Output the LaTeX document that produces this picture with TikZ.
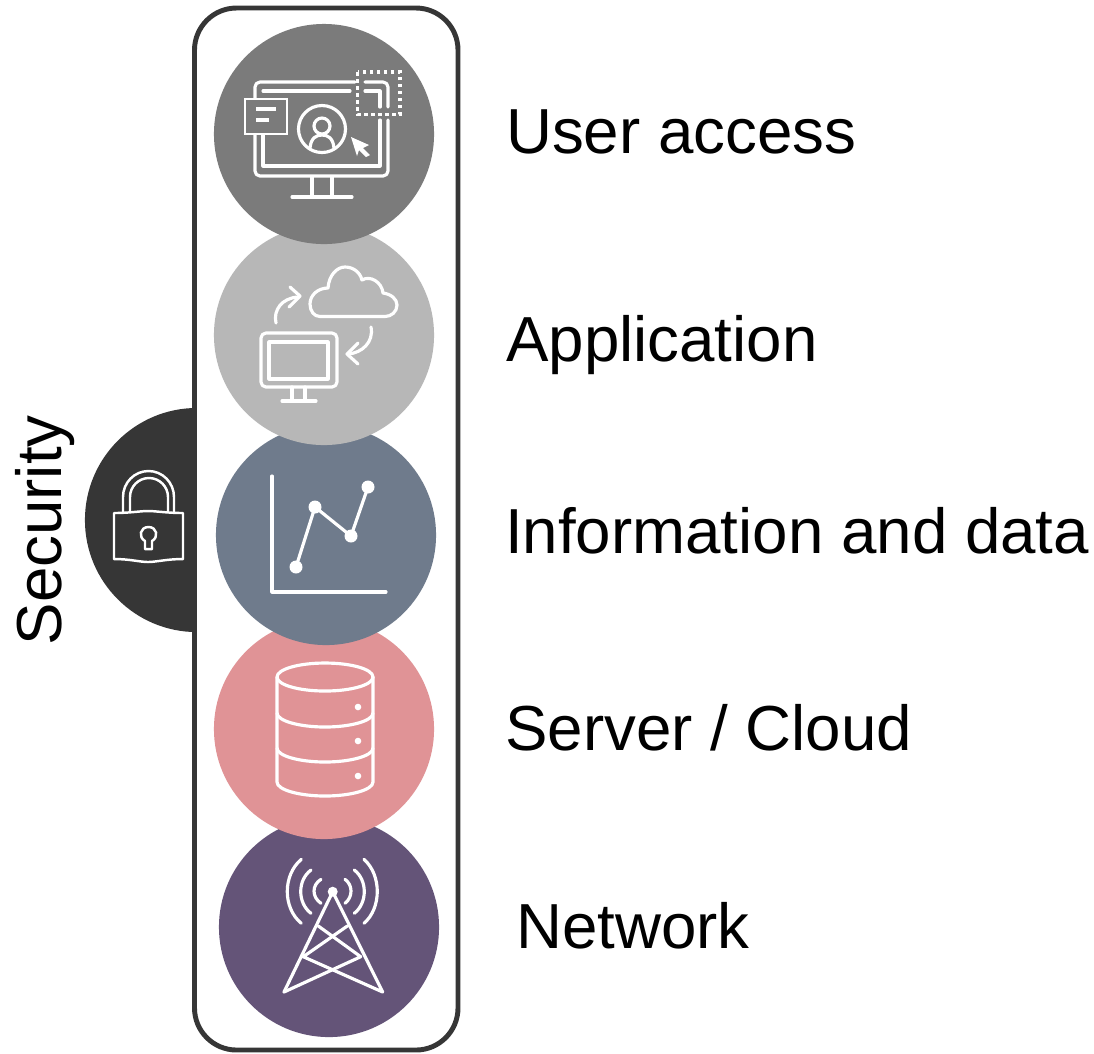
\documentclass[tikz,border=0pt]{standalone}
\usepackage{fontspec}
\setmainfont{Liberation Sans}
\usepackage{tikz}
\usetikzlibrary{positioning}
\definecolor{layerUser}{HTML}{7B7B7B}
\definecolor{layerApp}{HTML}{B7B7B7}
\definecolor{layerInfo}{HTML}{6F7B8C}
\definecolor{layerServer}{HTML}{E09396}
\definecolor{layerNet}{HTML}{645478}
\definecolor{layerSec}{HTML}{363636}
\tikzset{
  layer/.style={circle,minimum size=2.2cm,inner sep=0pt},
  icon/.style={draw=white,line width=0.9pt,line cap=round,line join=round},
  label/.style={anchor=base west,inner sep=0pt,font=\fontsize{18.1}{22}\selectfont}
}
\begin{document}
\begin{tikzpicture}[x=0.01cm,y=-0.01cm]
\useasboundingbox (0,0) rectangle (1094,1053);
\node[layer,minimum size=2.24cm,fill=layerSec] (security) at (197,520) {};
\draw[line width=1.4pt,draw=layerSec,fill=white,rounded corners=0.42cm] (194.5,8) rectangle (458,1050);
\node[layer,fill=layerNet] (network) at (329,927) {};
\node[layer,fill=layerServer] (server) at (324,729) {};
\node[layer,fill=layerInfo] (info) at (326,535) {};
\node[layer,fill=layerApp] (app) at (324,335) {};
\node[layer,fill=layerUser] (user) at (324,134) {};
\node[label] (userText) at (505.5,153) {User access};
\node[label] (appText) at (505.5,361) {Application};
\node[label] (infoText) at (504.5,553) {Information and data};
\node[label] (serverText) at (504.5,750) {Server / Cloud};
\node[label] (netText) at (515.5,948) {Network};
\node[label,rotate=90] (secText) at (61,646) {Security};
% user access
\draw[icon] (255,98) -- (255,87) arc[start angle=180,end angle=270,radius=5] -- (355,82);
\draw[icon] (263,91) -- (350,91);
\draw[icon] (365,82) -- (383,82) arc[start angle=270,end angle=360,radius=5] -- (388,107);
\draw[icon] (365,91) -- (380,91) -- (380,107);
\draw[icon] (388,120) -- (388,171) arc[start angle=0,end angle=90,radius=5] -- (260,176) arc[start angle=90,end angle=180,radius=5] -- (255,135);
\draw[icon] (263,135) -- (263,166) -- (380,166) -- (380,120);
\draw[icon] (312,177) -- (312,197) (332,177) -- (332,197) (292,197) -- (352,197);
\draw[icon,line width=0.8pt,line cap=butt,line join=miter] (245,99) rectangle (287,134);
\draw[icon,line cap=butt] (256,109) -- (276,109) (256,120) -- (269,120);
\draw[icon] (322,129) circle (23.5);
\draw[icon] (322,126) circle (8);
\draw[icon] (310,148) .. controls (311,138) and (316,135) .. (322,135) .. controls (328,135) and (333,138) .. (334,148);
\fill[white] (351,137) -- (369,145) -- (363,148) -- (370,155) -- (366,157) -- (359,150) -- (357,156) -- cycle;
\draw[draw=white,line width=1.1pt,dash pattern=on 0.035cm off 0.035cm] (357.5,72) rectangle (400,114.5);
% application
\draw[icon] (320,316.5) .. controls (314,316.5) and (310,311) .. (310,304) .. controls (310,295) and (318,288) .. (328,288) .. controls (329,275) and (337,267) .. (345,267) .. controls (353,267) and (360,272) .. (362,280) .. controls (370,275) and (382,282) .. (383,293) .. controls (391,294) and (397,299) .. (397,305) .. controls (397,312) and (391,316.5) .. (385,316.5) -- cycle;
\draw[icon] (276,323) .. controls (273,310) and (282,298) .. (298,297);
\draw[icon] (290,287) -- (300,296) -- (289,307);
\draw[icon] (371,327) .. controls (374,342) and (362,353) .. (348,354);
\draw[icon] (358,343) -- (347,354) -- (358,364);
\draw[icon,rounded corners=0.05cm] (261,333) rectangle (337,387);
\draw[icon] (269,342) rectangle (328,379);
\draw[icon] (292,387) -- (292,401) (305,387) -- (305,401) (282,401) -- (316,401);
% information and data
\draw[icon] (272,476) -- (272,592) -- (386,592);
\draw[icon] (296,567) -- (315,507) -- (351,536) -- (368,487);
\foreach \px/\py in {296/567,315/507,351/536,368/487}
  \fill[white] (\px,\py) circle (6.5);
% server
\draw[icon] (325,677) ellipse (48 and 14);
\draw[icon] (277,677) -- (277,782) .. controls (277,790) and (300,796) .. (325,796) .. controls (350,796) and (373,790) .. (373,782) -- (373,677);
\draw[icon] (277,713) .. controls (277,721) and (300,727) .. (325,727) .. controls (350,727) and (373,721) .. (373,713);
\draw[icon] (277,748) .. controls (277,756) and (300,762) .. (325,762) .. controls (350,762) and (373,756) .. (373,748);
\foreach \py in {707,741,776}
  \fill[white] (358,\py) circle (3.3);
% network
\fill[white] (332.7,891.7) circle (5);
\draw[icon] (284,992) -- (332.7,891.7) -- (382.7,992) -- (303.3,956.7) -- (347.3,926);
\draw[icon] (284,992) -- (360.7,956.7) -- (318.3,926);
\draw[icon] (321,879.3) .. controls (311.7,885) and (311.7,897) .. (321,903.3);
\draw[icon] (311,870) .. controls (297.3,880) and (297.3,903) .. (311,913.3);
\draw[icon] (301.3,859.3) .. controls (282.6,875) and (282.6,908) .. (301.3,923.3);
\draw[icon] (345,879.3) .. controls (353,885) and (353,897) .. (345,903.3);
\draw[icon] (354.3,870) .. controls (367.6,880) and (367.6,903) .. (354.3,913.3);
\draw[icon] (364,859.3) .. controls (381.7,875) and (381.7,908) .. (364,923.3);
% security
\draw[icon,line width=0.7pt] (114,513) .. controls (130,513) and (140,511) .. (148,511) .. controls (156,511) and (167,513) .. (183,513) -- (183,559) .. controls (167,559) and (156,562) .. (148,562) .. controls (140,562) and (130,559) .. (114,559) -- cycle;
\draw[icon,line width=0.7pt] (123,512) -- (123,497) arc[start angle=180,end angle=360,x radius=25.5,y radius=26] -- (174,512);
\draw[icon,line width=0.7pt] (130,511) -- (130,497) arc[start angle=180,end angle=360,x radius=19,y radius=19] -- (168,511);
\draw[icon,line width=0.7pt] (145,549) -- (145,541) .. controls (138,537) and (140,527) .. (148.5,527) .. controls (157,527) and (159,537) .. (152,541) -- (152,549) -- cycle;
\end{tikzpicture}
\end{document}
